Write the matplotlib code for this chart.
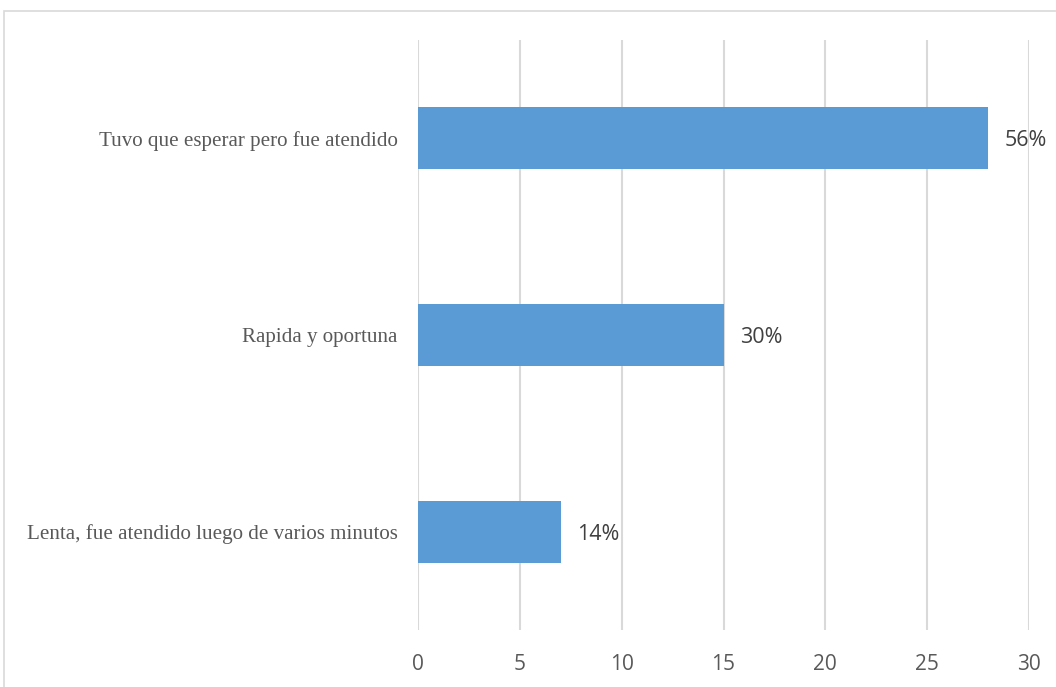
import matplotlib
matplotlib.use('Agg')
import matplotlib.pyplot as plt
from matplotlib.patches import Rectangle

# survey answers, bottom to top
categories = ['Lenta, fue atendido luego de varios minutos',
              'Rapida y oportuna',
              'Tuvo que esperar pero fue atendido']
counts = [7, 15, 28]
pct_labels = ['14%', '30%', '56%']
x_ticks = [0, 5, 10, 15, 20, 25, 30]

W, H = 1056, 687
fig = plt.figure(figsize=(W / 100, H / 100), dpi=100)
ax = fig.add_axes([418 / W, 1 - 630 / H, (1029 - 418) / W, (630 - 40) / H])

ypos = range(len(categories))
ax.barh(ypos, counts, height=0.315, color='#5B9BD5', zorder=3)

for y, v, lab in zip(ypos, counts, pct_labels):
    ax.text(v + 0.8, y - 0.012, lab, va='center', ha='left', fontsize=15.5,
            family='Open Sans', color='#404040')

ax.set_xlim(0, 30)
ax.set_ylim(-0.5, 2.5)
ax.set_xticks(x_ticks)
ax.set_xticklabels([str(t) for t in x_ticks], family='Open Sans',
                   fontsize=15, color='#595959')
ax.set_yticks(list(ypos))
ax.set_yticklabels(categories, family='Liberation Serif', fontsize=15.1,
                   color='#595959')
ax.tick_params(axis='both', length=0)
ax.tick_params(axis='x', pad=17)
ax.tick_params(axis='y', pad=14.5)
ax.grid(axis='x', color='#d9d9d9', linewidth=1.5, zorder=0)
for s in ax.spines.values():
    s.set_visible(False)

# outer chart border
fig.patches.append(Rectangle((4 / W, -0.1), 1.2, 1 - 11 / H + 0.1,
                             transform=fig.transFigure, fill=False,
                             edgecolor='#d9d9d9', linewidth=1.2))

fig.savefig('out.png', dpi=100)
